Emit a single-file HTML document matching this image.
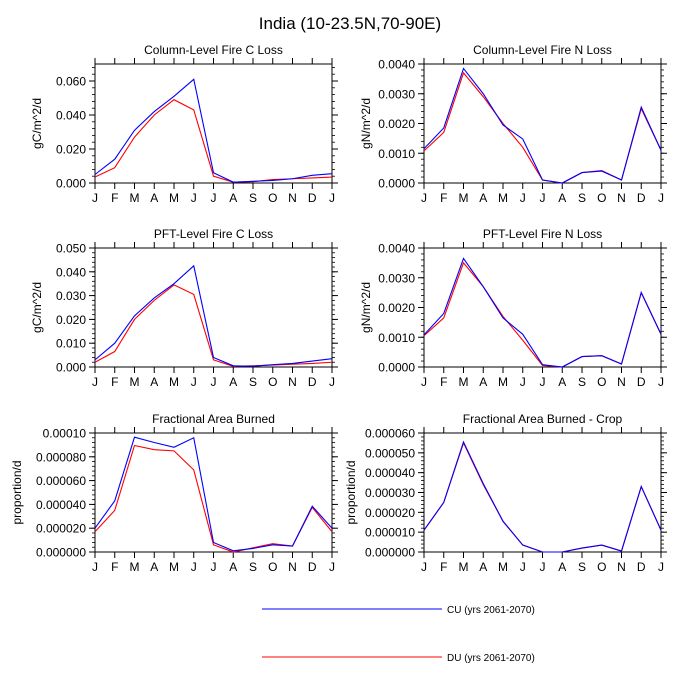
<!DOCTYPE html>
<html><head><meta charset="utf-8"><style>
body{margin:0;background:#fff;}
svg{display:block;font-family:"Liberation Sans",sans-serif;}
</style></head><body>
<svg id="chart" width="700" height="700" xmlns="http://www.w3.org/2000/svg">
<text x="350" y="29" text-anchor="middle" font-size="17">India (10-23.5N,70-90E)</text>
<g id="panels"></g>
<line x1="262" y1="609" x2="442" y2="609" stroke="#00f" stroke-width="1"/>
<text x="447" y="613" font-size="10">CU (yrs 2061-2070)</text>
<line x1="262" y1="657" x2="442" y2="657" stroke="#f00" stroke-width="1"/>
<text x="447" y="661" font-size="10">DU (yrs 2061-2070)</text>
</svg>
<script>
const months=["J","F","M","A","M","J","J","A","S","O","N","D","J"];
const titles=["Column-Level Fire C Loss","Column-Level Fire N Loss","PFT-Level Fire C Loss","PFT-Level Fire N Loss","Fractional Area Burned","Fractional Area Burned - Crop"];
const yTitles=["gC/m^2/d","gN/m^2/d","gC/m^2/d","gN/m^2/d","proportion/d","proportion/d"];
const yMax=[0.07,0.004,0.05,0.004,0.0001,0.00006];
const yStep=[0.02,0.001,0.01,0.001,0.00002,0.00001];
const yDec=[3,4,3,4,6,6];
const cu1=[0.005,0.014,0.031,0.042,0.051,0.061,0.006,0.0005,0.001,0.0015,0.0025,0.0045,0.0055];
const du1=[0.0035,0.009,0.027,0.040,0.049,0.043,0.004,0.0005,0.0008,0.002,0.0025,0.003,0.0035];
const cu2=[0.00115,0.00185,0.00385,0.0030,0.00195,0.00148,0.0001,0.0,0.00035,0.0004,0.0001,0.00255,0.0011];
const du2=[0.00108,0.0017,0.0037,0.0029,0.0020,0.0012,0.0001,0.0,0.00035,0.00042,0.0001,0.0025,0.0011];
const cu3=[0.003,0.010,0.0215,0.029,0.035,0.0425,0.004,0.0005,0.0003,0.001,0.0015,0.0025,0.0035];
const du3=[0.002,0.0065,0.020,0.028,0.0345,0.0305,0.003,0.0003,0.0005,0.0008,0.0012,0.0015,0.002];
const cu4=[0.00108,0.0018,0.00365,0.0027,0.00165,0.0011,0.00008,0,0.00035,0.00038,0.0001,0.0025,0.0011];
const du4=[0.00105,0.00165,0.0035,0.0027,0.0017,0.0009,0.00005,0,0.00035,0.00038,0.0001,0.0025,0.0011];
const cu5=[2.0e-5,4.3e-5,9.65e-5,9.2e-5,8.8e-5,9.6e-5,0.8e-5,0.1e-5,0.3e-5,0.6e-5,0.5e-5,3.85e-5,2.0e-5];
const du5=[1.7e-5,3.5e-5,8.95e-5,8.6e-5,8.5e-5,6.9e-5,0.6e-5,0,0.35e-5,0.7e-5,0.5e-5,3.75e-5,1.7e-5];
const cu6=[1.1e-5,2.5e-5,5.55e-5,3.45e-5,1.55e-5,0.35e-5,0,0,0.2e-5,0.35e-5,0.05e-5,3.3e-5,1.1e-5];
const du6=[1.1e-5,2.5e-5,5.5e-5,3.4e-5,1.55e-5,0.35e-5,0,0,0.2e-5,0.35e-5,0.05e-5,3.3e-5,1.1e-5];
const CU=[cu1,cu2,cu3,cu4,cu5,cu6], DU=[du1,du2,du3,du4,du5,du6];
const NS="http://www.w3.org/2000/svg";
const root=document.getElementById("panels");
function mk(tag,attrs,parent){const e=document.createElementNS(NS,tag);for(const k in attrs)e.setAttribute(k,attrs[k]);parent.appendChild(e);return e;}
const lefts=[95,424], tops=[64,248,433], W=237, H=119;
const yTitleX=[41,370,41,370,21,355];
for(let p=0;p<6;p++){
  const x0=lefts[p%2], y0=tops[Math.floor(p/2)];
  const g=mk("g",{},root);
  
  
  const xs=i=>x0+i*W/12, ys=v=>y0+H-v/yMax[p]*H;
  const t=mk("text",{x:x0+W/2,y:y0-10,"text-anchor":"middle","font-size":"12"},g);t.textContent=titles[p];
  
  
  const yt=mk("text",{transform:`translate(${yTitleX[p]},${y0+H/2}) rotate(-90)`,"text-anchor":"middle","font-size":"12"},g);yt.textContent=yTitles[p];
  
  
  const minor=yStep[p]/5;
  for(let k=0;k*minor<=yMax[p]+1e-12;k++){const y=ys(k*minor);
    mk("line",{x1:x0-3,x2:x0,y1:y,y2:y,stroke:"#000","stroke-width":0.8},g);
    mk("line",{x1:x0+W,x2:x0+W+3,y1:y,y2:y,stroke:"#000","stroke-width":0.8},g);}
  for(let k=0;k*yStep[p]<=yMax[p]+1e-12;k++){const v=k*yStep[p],y=ys(v);
    mk("line",{x1:x0-6,x2:x0,y1:y,y2:y,stroke:"#000"},g);
    mk("line",{x1:x0+W,x2:x0+W+6,y1:y,y2:y,stroke:"#000"},g);
    let lab=v.toFixed(yDec[p]); if(p==4&&k==5) lab="0.00010";
    const tl=mk("text",{x:x0-9,y:y+4.5,"text-anchor":"end","font-size":"12"},g);tl.textContent=lab;
    
    }
  months.forEach((m,i)=>{const x=xs(i);
    mk("line",{x1:x,x2:x,y1:y0+H,y2:y0+H+6,stroke:"#000"},g);
    mk("line",{x1:x,x2:x,y1:y0-6,y2:y0,stroke:"#000"},g);
    const tl=mk("text",{x:x,y:y0+H+19,"text-anchor":"middle","font-size":"12"},g);tl.textContent=m;
    
    });
  mk("rect",{x:x0,y:y0,width:W,height:H,fill:"none",stroke:"#000","stroke-width":1},g);
  [[DU[p],"#f00","du"],[CU[p],"#00f","cu"]].forEach(([d,c,n])=>{
    const pl=mk("polyline",{points:d.map((v,i)=>xs(i)+","+ys(v)).join(" "),fill:"none",stroke:c,"stroke-width":1.1},g);
    
    });
}
</script>
</body></html>
